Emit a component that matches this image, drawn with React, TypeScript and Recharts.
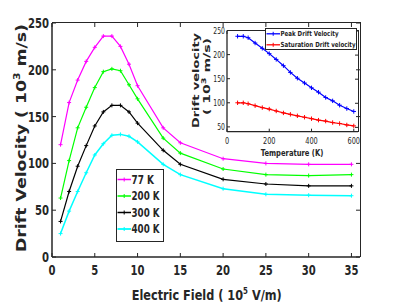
import { LineChart, Line, XAxis, YAxis } from 'recharts'

// main plot: drift velocity vs field at four temperatures
const fieldX = [1, 2, 3, 4, 5, 6, 7, 8, 9, 10, 13, 15, 20, 25, 30, 35]
const v77 = [120, 165, 189, 209, 224, 236, 236, 225, 206, 183, 138, 122, 105, 100, 99, 99]
const v200 = [63, 103, 138, 160, 181, 198, 201, 199, 184, 169, 127, 111, 94, 88, 87, 88]
const v300 = [38, 70, 97, 119, 140, 155, 162, 162, 155, 143, 114, 99, 83, 78, 76, 76]
const v400 = [25, 49, 70, 90, 109, 121, 130, 131, 129, 123, 99, 88, 73, 67, 66, 65.5]
const fieldTicks = [0, 5, 10, 15, 20, 25, 30, 35]
const velTicks = [0, 50, 100, 150, 200, 250]

// inset: peak / saturation velocity vs temperature
const temps = [50, 77, 100, 133, 167, 200, 233, 267, 300, 333, 367, 400, 433, 467, 500, 533, 567, 600]
const peakV = [238, 238, 235, 224, 213, 202, 190, 177, 163, 151, 141, 131, 122, 111, 104, 95, 88, 82]
const satV = [100, 100, 98, 94, 90, 87, 83, 79, 76, 73, 70, 67, 64, 62, 59, 57, 54, 52]
const tempTicks = [0, 200, 400, 600]
const insetTicks = [50, 100, 150, 200, 250]

const series = [
  { key: 'v77', name: '77 K', color: '#ff00ff', values: v77, width: 1.2 },
  { key: 'v200', name: '200 K', color: '#00ff00', values: v200, width: 1.2 },
  { key: 'v300', name: '300 K', color: '#000000', values: v300, width: 1.2 },
  { key: 'v400', name: '400 K', color: '#00ffff', values: v400, width: 1.5 },
]
const insetSeries = [
  { key: 'peak', name: 'Peak Drift Velocity', color: '#0000ff', values: peakV, textLen: 58 },
  { key: 'sat', name: 'Saturation Drift velocity', color: '#ff0000', values: satV, textLen: 75 },
]

const mainData = fieldX.map((x, i) => {
  const row: any = { x }
  series.forEach((s) => { row[s.key] = s.values[i] })
  return row
})
const insetData = temps.map((t, i) => {
  const row: any = { t }
  insetSeries.forEach((s) => { row[s.key] = s.values[i] })
  return row
})

const AX = '#262626'
const FONT = 'DejaVu Sans'

const MAIN_X = [0, 36]
const MAIN_Y = [0, 250]
const IN_X = [0, 620]
const IN_Y = [40, 250]

// plot boxes, from chart size, margins and axis sizes
const MAIN_W = 399, MAIN_H = 307
const MAIN_M = { top: 23, right: 39, bottom: 30, left: 0 }
const MAIN_YW = 52, MAIN_XH = 20
const MAIN_BOX = { x: MAIN_M.left + MAIN_YW, y: MAIN_M.top, w: MAIN_W - MAIN_M.left - MAIN_M.right - MAIN_YW, h: MAIN_H - MAIN_M.top - MAIN_M.bottom - MAIN_XH }

const IN_LEFT = 180, IN_TOP = 20
const IN_W = 190, IN_H = 145
const IN_M = { top: 10.5, right: 12, bottom: 13.3, left: 0 }
const IN_YW = 47, IN_XH = 20
const IN_BOX = { x: IN_M.left + IN_YW, y: IN_M.top, w: IN_W - IN_M.left - IN_M.right - IN_YW, h: IN_H - IN_M.top - IN_M.bottom - IN_XH }

const plusDot = (color: string, r: number) => (props: any) => {
  const { cx, cy, key } = props
  if (cx == null || cy == null) return <g key={key} />
  return (
    <path key={key} d={`M${cx - r},${cy}h${2 * r}M${cx},${cy - r}v${2 * r}`} stroke={color} strokeWidth={1} fill="none" />
  )
}

const makeXTick = (o: { margin: number; len: number; fs: number; cw: number; bold: boolean }) => ({ x, y, payload }: any) => (
  <g>
    <line x1={x} x2={x} y1={y - o.margin} y2={y - o.margin - o.len} stroke={AX} strokeWidth={1} />
    <text x={x} y={y} dy="0.72em" textAnchor="middle" fontFamily={FONT} fontWeight={o.bold ? 'bold' : 'normal'} fontSize={o.fs} fill={AX}
      textLength={String(payload.value).length * o.cw} lengthAdjust="spacingAndGlyphs">{payload.value}</text>
  </g>
)
const makeYTick = (o: { margin: number; len: number; fs: number; cw: number; bold: boolean }) => ({ x, y, payload }: any) => (
  <g>
    <line x1={x + o.margin} x2={x + o.margin + o.len} y1={y} y2={y} stroke={AX} strokeWidth={1} />
    <text x={x} y={y} dy="0.36em" textAnchor="end" fontFamily={FONT} fontWeight={o.bold ? 'bold' : 'normal'} fontSize={o.fs} fill={AX}
      textLength={String(payload.value).length * o.cw} lengthAdjust="spacingAndGlyphs">{payload.value}</text>
  </g>
)

const MainXTick = makeXTick({ margin: 8, len: 4, fs: 13.7, cw: 7, bold: true })
const MainYTick = makeYTick({ margin: 3, len: 4, fs: 13.7, cw: 7, bold: true })
const InsetXTick = makeXTick({ margin: 6, len: 3, fs: 8.5, cw: 4.2, bold: false })
const InsetYTick = makeYTick({ margin: 2, len: 3, fs: 8.5, cw: 3.9, bold: false })

// top / right edges of a box (matlab "box on") as an html frame plus inward ticks in svg
function BoxFrame({ left, top, box, xd, yd, xt, yt, len, lw }: any) {
  const px = (v: number) => ((v - xd[0]) / (xd[1] - xd[0])) * box.w
  const py = (v: number) => box.h - ((v - yd[0]) / (yd[1] - yd[0])) * box.h
  return (
    <div style={{
      position: 'absolute', left: left + box.x, top: top + box.y - lw / 2, width: box.w + lw / 2, height: box.h + lw / 2,
      borderTop: `${lw}px solid ${AX}`, borderRight: `${lw}px solid ${AX}`, boxSizing: 'border-box', pointerEvents: 'none',
    }}>
      <svg width={box.w} height={box.h} style={{ position: 'absolute', left: 0, top: 0, overflow: 'visible' }}>
        {xt.map((t: number) => (
          <line key={`t${t}`} x1={px(t)} x2={px(t)} y1={0} y2={len} stroke={AX} strokeWidth={1} />
        ))}
        {yt.map((t: number) => (
          <line key={`r${t}`} x1={box.w} x2={box.w - len} y1={py(t)} y2={py(t)} stroke={AX} strokeWidth={1} />
        ))}
      </svg>
    </div>
  )
}

export default function App() {
  return (
    <div style={{ position: 'absolute', left: 0, top: 0, width: 399, height: 307, background: '#fff' }}>
      <LineChart width={MAIN_W} height={MAIN_H} data={mainData} margin={MAIN_M}>
        <XAxis dataKey="x" type="number" domain={MAIN_X} ticks={fieldTicks} interval={0} height={MAIN_XH}
          tickSize={0} tickMargin={8} tick={MainXTick} axisLine={{ stroke: AX, strokeWidth: 1.5 }} tickLine={false} />
        <YAxis type="number" domain={MAIN_Y} ticks={velTicks} interval={0} width={MAIN_YW}
          tickSize={0} tickMargin={3} tick={MainYTick} axisLine={{ stroke: AX, strokeWidth: 1.5 }} tickLine={false} />
        {series.map((s) => (
          <Line key={s.key} dataKey={s.key} stroke={s.color} strokeWidth={s.width} type="linear"
            dot={plusDot(s.color, 2)} activeDot={false} isAnimationActive={false} />
        ))}
      </LineChart>

      <BoxFrame left={0} top={0} box={MAIN_BOX} xd={MAIN_X} yd={MAIN_Y} xt={fieldTicks} yt={velTicks} len={4} lw={1.5} />

      {/* axis titles */}
      <svg width={399} height={307} style={{ position: 'absolute', left: 0, top: 0, pointerEvents: 'none' }}>
        <text x={206.7} y={300} textAnchor="middle" fontFamily={FONT} fontWeight="bold" fontSize={14.5} fill={AX}
          textLength={150} lengthAdjust="spacingAndGlyphs">
          Electric Field ( 10<tspan dy={-6} fontSize={9}>5</tspan><tspan dy={6}> V/m)</tspan>
        </text>
        <text transform="translate(26,138) rotate(-90)" textAnchor="middle" fontFamily={FONT} fontWeight="bold" fontSize={14.5} fill={AX}
          textLength={228} lengthAdjust="spacingAndGlyphs">
          Drift Velocity ( 10<tspan dy={-6} fontSize={9}>3</tspan><tspan dy={6}> m/s)</tspan>
        </text>
      </svg>

      {/* legend */}
      <div style={{ position: 'absolute', left: 116, top: 169, width: 48, height: 73, border: `1.5px solid ${AX}`, background: '#fff', boxSizing: 'border-box' }}>
        <svg width={45} height={70} style={{ display: 'block', overflow: 'visible' }}>
          {series.map((s, i) => {
            const cy = 9.5 + i * 16.5
            return (
              <g key={s.key}>
                <line x1={0.5} x2={14} y1={cy} y2={cy} stroke={s.color} strokeWidth={s.width + 0.3} />
                <path d={`M7.2,${cy - 2}v4`} stroke={s.color} strokeWidth={1} />
                <text x={14.5} y={cy} dy="0.36em" fontFamily={FONT} fontWeight="bold" fontSize={11.5} fill={AX}
                  textLength={s.name.length * 5.6} lengthAdjust="spacingAndGlyphs">{s.name}</text>
              </g>
            )
          })}
        </svg>
      </div>

      {/* inset */}
      <div style={{ position: 'absolute', left: IN_LEFT, top: IN_TOP, width: IN_W, height: IN_H }}>
        <LineChart width={IN_W} height={IN_H} data={insetData} margin={IN_M}>
          <XAxis dataKey="t" type="number" domain={IN_X} ticks={tempTicks} interval={0} height={IN_XH}
            tickSize={0} tickMargin={6} tick={InsetXTick} axisLine={{ stroke: AX, strokeWidth: 1.3 }} tickLine={false} />
          <YAxis type="number" domain={IN_Y} ticks={insetTicks} interval={0} width={IN_YW}
            tickSize={0} tickMargin={2} tick={InsetYTick} axisLine={{ stroke: AX, strokeWidth: 1.3 }} tickLine={false} />
          {insetSeries.map((s) => (
            <Line key={s.key} dataKey={s.key} stroke={s.color} strokeWidth={1.2} type="linear"
              dot={plusDot(s.color, 2.2)} activeDot={false} isAnimationActive={false} />
          ))}
        </LineChart>
        <svg width={IN_W} height={IN_H} style={{ position: 'absolute', left: 0, top: 0, pointerEvents: 'none' }}>
          <text x={112} y={135.7} textAnchor="middle" fontFamily={FONT} fontWeight="bold" fontSize={9} fill={AX}
            textLength={62.6} lengthAdjust="spacingAndGlyphs">Temperature (K)</text>
          <text transform="translate(18.5,60.5) rotate(-90)" textAnchor="middle" fontFamily={FONT} fontWeight="bold" fontSize={9.5} fill={AX}
            textLength={95} lengthAdjust="spacingAndGlyphs">Drift velocity</text>
          <text transform="translate(30,56.5) rotate(-90)" textAnchor="middle" fontFamily={FONT} fontWeight="bold" fontSize={9.5} fill={AX}
            textLength={77} lengthAdjust="spacingAndGlyphs">
            ( 10<tspan dy={-4} fontSize={6.5}>3</tspan><tspan dy={4}> m/s)</tspan>
          </text>
        </svg>
      </div>

      <BoxFrame left={IN_LEFT} top={IN_TOP} box={IN_BOX} xd={IN_X} yd={IN_Y} xt={tempTicks} yt={insetTicks} len={3} lw={1.3} />

      {/* inset legend */}
      <div style={{ position: 'absolute', left: 265, top: 28, width: 92, height: 22, border: `1px solid ${AX}`, background: '#fff', boxSizing: 'border-box' }}>
        <svg width={90} height={20} style={{ display: 'block', overflow: 'visible' }}>
          {insetSeries.map((s, i) => {
            const cy = 4.8 + i * 11
            return (
              <g key={s.key}>
                <line x1={0.5} x2={14} y1={cy} y2={cy} stroke={s.color} strokeWidth={1.3} />
                <path d={`M7.2,${cy - 2}v4`} stroke={s.color} strokeWidth={1} />
                <text x={14.5} y={cy} dy="0.36em" fontFamily={FONT} fontWeight="bold" fontSize={7} fill={AX}
                  textLength={s.textLen} lengthAdjust="spacingAndGlyphs">{s.name}</text>
              </g>
            )
          })}
        </svg>
      </div>
    </div>
  )
}
